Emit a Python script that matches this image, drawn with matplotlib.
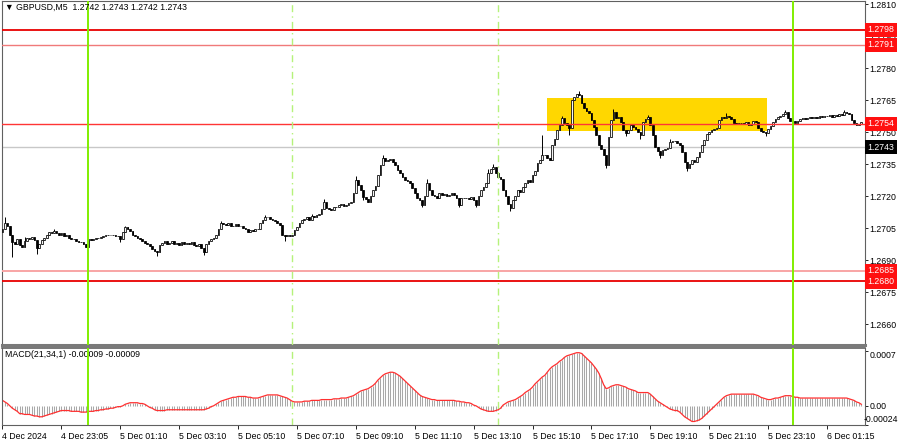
import matplotlib
matplotlib.use('Agg')
import matplotlib.pyplot as plt
import numpy as np

plt.rcParams['font.family'] = ['Liberation Sans', 'DejaVu Sans']

# M5 closes, one per bar (open = previous close)
closes = [
    1.27044, 1.27076, 1.27060, 1.27020, 1.26985, 1.26975, 1.27000, 1.26970, 1.26960, 1.26990,
    1.27006, 1.27000, 1.27010, 1.26995, 1.26955, 1.26975, 1.26995, 1.27006, 1.27020, 1.27030,
    1.27025, 1.27035, 1.27028, 1.27020, 1.27025, 1.27015, 1.27016, 1.27005, 1.27000, 1.26997,
    1.26990, 1.26985, 1.26983, 1.26975, 1.26962, 1.26997, 1.26995, 1.27000, 1.27002, 1.27005,
    1.27008, 1.27012, 1.27016, 1.27018, 1.27020, 1.27020, 1.27015, 1.27011, 1.26997, 1.27030,
    1.27053, 1.27044, 1.27035, 1.27020, 1.27015, 1.27005, 1.26997, 1.26990, 1.26980, 1.26974,
    1.26965, 1.26950, 1.26945, 1.26937, 1.26969, 1.26980, 1.26988, 1.26975, 1.26979, 1.26990,
    1.26975, 1.26980, 1.26969, 1.26985, 1.26975, 1.26980, 1.26974, 1.26985, 1.26970, 1.26964,
    1.26975, 1.26955, 1.26937, 1.26975, 1.26988, 1.27000, 1.27006, 1.27020, 1.27045, 1.27076,
    1.27070, 1.27067, 1.27075, 1.27060, 1.27062, 1.27070, 1.27058, 1.27062, 1.27050, 1.27048,
    1.27030, 1.27040, 1.27036, 1.27045, 1.27048, 1.27075, 1.27090, 1.27100, 1.27100, 1.27095,
    1.27090, 1.27085, 1.27076, 1.27067, 1.27020, 1.27011, 1.27016, 1.27014, 1.27020, 1.27040,
    1.27053, 1.27075, 1.27090, 1.27095, 1.27100, 1.27090, 1.27105, 1.27100, 1.27110, 1.27118,
    1.27140, 1.27174, 1.27146, 1.27140, 1.27137, 1.27150, 1.27151, 1.27160, 1.27165, 1.27155,
    1.27160, 1.27168, 1.27174, 1.27216, 1.27277, 1.27250, 1.27230, 1.27197, 1.27185, 1.27174,
    1.27200, 1.27230, 1.27249, 1.27300, 1.27346, 1.27379, 1.27365, 1.27370, 1.27375, 1.27360,
    1.27346, 1.27323, 1.27310, 1.27291, 1.27277, 1.27270, 1.27263, 1.27240, 1.27216, 1.27193,
    1.27180, 1.27160, 1.27200, 1.27263, 1.27230, 1.27207, 1.27200, 1.27193, 1.27216, 1.27205,
    1.27211, 1.27200, 1.27207, 1.27215, 1.27207, 1.27190, 1.27160, 1.27193, 1.27190, 1.27193,
    1.27185, 1.27197, 1.27180, 1.27160, 1.27200, 1.27230, 1.27245, 1.27263, 1.27310, 1.27325,
    1.27337, 1.27310, 1.27291, 1.27280, 1.27230, 1.27200, 1.27165, 1.27146, 1.27183, 1.27200,
    1.27230, 1.27220, 1.27244, 1.27260, 1.27277, 1.27265, 1.27300, 1.27320, 1.27356, 1.27370,
    1.27393, 1.27393, 1.27380, 1.27370, 1.27440, 1.27470, 1.27509, 1.27533, 1.27565, 1.27545,
    1.27533, 1.27520, 1.27649, 1.27665, 1.27677, 1.27672, 1.27635, 1.27612, 1.27600, 1.27589,
    1.27556, 1.27523, 1.27486, 1.27440, 1.27420, 1.27393, 1.27346, 1.27477, 1.27556, 1.27593,
    1.27565, 1.27570, 1.27547, 1.27509, 1.27495, 1.27510, 1.27533, 1.27523, 1.27515, 1.27500,
    1.27486, 1.27547, 1.27560, 1.27570, 1.27533, 1.27486, 1.27430, 1.27410, 1.27393, 1.27416,
    1.27420, 1.27426, 1.27454, 1.27460, 1.27458, 1.27450, 1.27440, 1.27407, 1.27360, 1.27333,
    1.27350, 1.27370, 1.27360, 1.27384, 1.27407, 1.27440, 1.27463, 1.27491, 1.27500, 1.27509,
    1.27515, 1.27519, 1.27556, 1.27570, 1.27565, 1.27575, 1.27570, 1.27560, 1.27545, 1.27537,
    1.27545, 1.27542, 1.27540, 1.27547, 1.27535, 1.27537, 1.27550, 1.27547, 1.27519, 1.27505,
    1.27500, 1.27495, 1.27515, 1.27528, 1.27547, 1.27560, 1.27570, 1.27575, 1.27584, 1.27593,
    1.27565, 1.27550, 1.27551, 1.27545, 1.27551, 1.27560, 1.27565, 1.27562, 1.27568, 1.27570,
    1.27565, 1.27572, 1.27568, 1.27575, 1.27570, 1.27578, 1.27574, 1.27579, 1.27572, 1.27580,
    1.27576, 1.27584, 1.27580, 1.27593, 1.27588, 1.27584, 1.27556, 1.27545, 1.27533, 1.27540,
    1.27547,
]
first_open = 1.27030

# visible long wicks (bar index: price)
spike_highs = {1: 1.27104, 9: 1.27010, 21: 1.27045, 50: 1.27062, 89: 1.27085, 107: 1.27110,
               126: 1.27118, 131: 1.27185, 144: 1.27295, 155: 1.27393, 173: 1.27280,
               198: 1.27325, 200: 1.27350, 220: 1.27486, 228: 1.27575, 235: 1.27691,
               249: 1.27610, 263: 1.27580, 272: 1.27470, 295: 1.27590, 319: 1.27605,
               343: 1.27605}
spike_lows = {4: 1.26913, 14: 1.26930, 48: 1.26985, 63: 1.26920, 82: 1.26925, 115: 1.26990,
              147: 1.27180, 171: 1.27150, 186: 1.27150, 193: 1.27150, 207: 1.27130,
              231: 1.27486, 246: 1.27330, 254: 1.27480, 260: 1.27470, 268: 1.27380,
              279: 1.27320, 311: 1.27480, 322: 1.27535}

# MACD(21,34,1) main value per bar, in 0.00001
macd_pts = [
    7, 5, 3, 0, -3, -5, -7, -10, -10, -11,
    -11, -11, -12, -13, -13, -14, -14, -13, -12, -11,
    -10, -9, -8, -7, -6, -6, -6, -6, -7, -7,
    -7, -7, -8, -8, -8, -7, -7, -7, -6, -6,
    -5, -5, -4, -4, -3, -3, -2, -1, -1, 0,
    2, 3, 4, 4, 4, 4, 3, 3, 2, 0,
    -2, -3, -5, -6, -6, -6, -6, -5, -5, -5,
    -5, -5, -5, -5, -5, -5, -5, -5, -5, -5,
    -5, -5, -5, -4, -3, -1, 0, 2, 4, 6,
    7, 8, 9, 10, 11, 11, 12, 12, 12, 12,
    11, 11, 10, 10, 10, 11, 12, 13, 14, 14,
    14, 14, 14, 13, 12, 11, 10, 8, 6, 5,
    5, 5, 5, 6, 6, 6, 7, 7, 7, 7,
    8, 8, 8, 8, 8, 9, 9, 9, 10, 10,
    10, 11, 12, 13, 15, 17, 19, 20, 21, 22,
    24, 26, 29, 33, 36, 39, 41, 42, 43, 43,
    42, 40, 38, 35, 32, 29, 26, 23, 20, 17,
    14, 12, 11, 10, 9, 8, 8, 7, 7, 7,
    7, 7, 7, 7, 7, 6, 6, 5, 5, 4,
    4, 3, 1, 0, -2, -4, -5, -6, -7, -7,
    -7, -6, -5, -3, 1, 3, 5, 6, 7, 8,
    10, 12, 14, 17, 19, 21, 24, 28, 31, 34,
    37, 39, 43, 47, 50, 52, 54, 57, 59, 62,
    64, 65, 66, 67, 68, 68, 67, 64, 61, 58,
    55, 51, 47, 42, 35, 27, 22, 23, 25, 26,
    27, 27, 26, 25, 24, 22, 21, 20, 19, 17,
    17, 17, 17, 17, 15, 12, 9, 6, 4, 2,
    0, -2, -4, -5, -6, -6, -8, -11, -14, -16,
    -18, -20, -20, -19, -18, -16, -13, -10, -7, -4,
    -1, 2, 5, 8, 11, 13, 14, 15, 15, 15,
    15, 15, 15, 15, 15, 15, 15, 14, 13, 11,
    10, 9, 8, 8, 9, 10, 10, 11, 12, 13,
    13, 13, 12, 11, 11, 10, 10, 10, 10, 10,
    10, 10, 10, 10, 10, 10, 10, 10, 10, 10,
    10, 10, 10, 10, 10, 9, 8, 7, 5, 4, 2,
]

time_labels = ['4 Dec 2024', '4 Dec 23:05', '5 Dec 01:10', '5 Dec 03:10', '5 Dec 05:10',
               '5 Dec 07:10', '5 Dec 09:10', '5 Dec 11:10', '5 Dec 13:10', '5 Dec 15:10',
               '5 Dec 17:10', '5 Dec 19:10', '5 Dec 21:10', '5 Dec 23:10', '6 Dec 01:15']
price_ticks = [1.2810, 1.2795, 1.2780, 1.2765, 1.2750, 1.2735, 1.2720, 1.2705, 1.2690, 1.2675, 1.2660]

strong_levels = [1.2798, 1.2680]
weak_levels = [1.2791, 1.2685]
mid_level = 1.2754
bid_level = 1.2743
day_lines = [35, 322]        # midnight bars
session_lines = [118, 202]   # session opens
zone_bars = (221.9, 311.5)
zone_prices = (1.27505, 1.27660)

c = np.array(closes)
o = np.r_[first_open, c[:-1]]
x = np.arange(len(c))
hi = np.maximum(o, c)
lo = np.minimum(o, c)
for k, v in spike_highs.items():
    hi[k] = v
for k, v in spike_lows.items():
    lo[k] = v
macd = np.array(macd_pts) * 1e-5

fig = plt.figure(figsize=(9, 4.41), dpi=100)
W, H = 900, 441
ax = fig.add_axes([2 / W, 1 - 345 / H, 863 / W, 344 / H])
ax2 = fig.add_axes([2 / W, 1 - 425 / H, 863 / W, 77 / H], sharex=ax)

fs = 6.3

# zone box
ax.add_patch(plt.Rectangle((zone_bars[0], zone_prices[0]), zone_bars[1] - zone_bars[0],
                           zone_prices[1] - zone_prices[0], color='#ffd700', zorder=1, lw=0))

# candles
ax.vlines(x, lo, hi, color='black', lw=0.7, zorder=3)
up = c >= o
ax.bar(x[up], (c - o)[up], bottom=o[up], width=0.7, color='#f4f4f4', edgecolor='black',
       linewidth=0.55, zorder=4)
ax.bar(x[~up], (c - o)[~up], bottom=o[~up], width=0.7, color='black', edgecolor='black',
       linewidth=0.55, zorder=4)

# horizontal levels
ax.axhline(bid_level, color='#c8c8c8', lw=1, zorder=2)
ax.axhline(mid_level, color='#ff3535', lw=1, zorder=5)
for lv in strong_levels:
    ax.axhline(lv, color='#e80000', lw=1.3, zorder=5)
ax.axhline(weak_levels[0], color='#f07a7a', lw=1, zorder=5)
ax.axhline(weak_levels[1], color='#f8a5a5', lw=1.4, zorder=5)

# vertical time markers through both panels
for a in (ax, ax2):
    for b in day_lines:
        a.axvline(b, color='#80ee00', lw=1.4, zorder=6)
    for b in session_lines:
        a.axvline(b, color='#b5f27a', lw=1, ls=(0, (5, 3, 1, 3)), zorder=6)

ax.set_xlim(-0.2, 351.5)
ax.set_ylim(1.26502, 1.28115)

ax.yaxis.tick_right()
ax.set_yticks(price_ticks)
ax.set_yticklabels([f'{p:.4f}' for p in price_ticks], fontsize=fs)
ax.tick_params(axis='y', length=2.2, width=0.6, pad=0.8, colors='black')
ax.tick_params(axis='x', bottom=False, labelbottom=False)

# price tags on the right
tag_kw = dict(transform=ax.get_yaxis_transform(), fontsize=fs, color='white', va='center',
              ha='left', zorder=10)
for lv in strong_levels + weak_levels + [mid_level]:
    ax.text(1.003, lv, f'{lv:.4f}', bbox=dict(boxstyle='square,pad=0.3', fc='#ff1010', ec='none'),
            **tag_kw)
ax.text(1.003, bid_level, f'{bid_level:.4f}', bbox=dict(boxstyle='square,pad=0.3', fc='black',
                                                        ec='none'), **tag_kw)

for s in ax.spines.values():
    s.set_color('#606060')
    s.set_linewidth(0.8)
ax.spines['bottom'].set_color('#7a7a7a')
ax.spines['bottom'].set_linewidth(2.2)

fig.text(5 / W, 1 - 7 / H, '\u25bc GBPUSD,M5  1.2742 1.2743 1.2742 1.2743', fontsize=fs,
         va='center', ha='left')

# MACD panel
ax2.vlines(x, 0, macd, color='#a8a8a8', lw=0.75)
ax2.plot(x, macd, color='#ff3030', lw=0.9)
ax2.set_ylim(-0.000245, 0.00074)
ax2.yaxis.tick_right()
ax2.set_yticks([0.0007, 0.0, -0.00024])
ax2.set_yticklabels(['0.0007', '0.00', ''], fontsize=fs)
ax2.get_yticklabels()[0].set_va('top')
ax2.tick_params(axis='y', length=2.2, width=0.6, pad=0.8)
fig.text(898 / W, 1 - 424 / H, '-0.00024', fontsize=fs, ha='right', va='bottom')
ax2.text(3 / 863, 0.92, 'MACD(21,34,1) -0.00009 -0.00009', transform=ax2.transAxes, fontsize=fs,
         va='center', ha='left')

ax2.set_xticks(np.arange(len(time_labels)) * 24)
ax2.set_xticklabels(time_labels, fontsize=fs)
for lbl in ax2.get_xticklabels():
    lbl.set_horizontalalignment('left')
ax2.tick_params(axis='x', length=3, width=0.6, pad=2)
for s in ax2.spines.values():
    s.set_color('#606060')
    s.set_linewidth(0.8)
ax2.spines['top'].set_linewidth(1.2)

fig.savefig('out.png', dpi=100)
